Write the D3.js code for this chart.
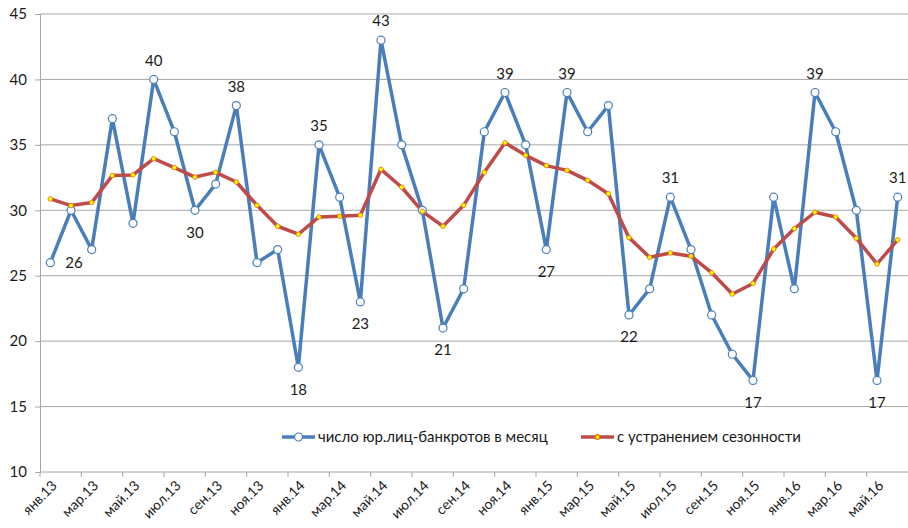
<!DOCTYPE html>
<html>
<head>
<meta charset="utf-8">
<script src="https://cdn.jsdelivr.net/npm/d3@7"></script>
<style>
  body { margin: 0; background: #fff; }
  svg { font-family: Lato, "Open Sans", sans-serif; }
</style>
</head>
<body>
<div id="chart"></div>
<script>
var months = [
  "янв.13","фев.13","мар.13","апр.13","май.13","июн.13","июл.13","авг.13","сен.13","окт.13","ноя.13","дек.13",
  "янв.14","фев.14","мар.14","апр.14","май.14","июн.14","июл.14","авг.14","сен.14","окт.14","ноя.14","дек.14",
  "янв.15","фев.15","мар.15","апр.15","май.15","июн.15","июл.15","авг.15","сен.15","окт.15","ноя.15","дек.15",
  "янв.16","фев.16","мар.16","апр.16","май.16","июн.16"
];
var bankrupts = [26,30,27,37,29,40,36,30,32,38,26,27,18,35,31,23,43,35,30,21,24,36,39,35,
  27,39,36,38,22,24,31,27,22,19,17,31,24,39,36,30,17,31];
var seasonal = [30.87,30.36,30.59,32.65,32.7,33.94,33.26,32.54,32.9,32.16,30.38,28.78,28.17,29.49,29.54,29.62,
  33.13,31.76,29.92,28.78,30.38,32.9,35.16,34.2,33.41,33.05,32.29,31.27,27.91,26.41,26.74,26.49,
  25.23,23.6,24.41,27.04,28.6,29.85,29.49,27.86,25.9,27.74];
var yTicks = [10,15,20,25,30,35,40,45];
// labelled points: index -> "above" / "below" / "right"
var labelPos = {0:"right",5:"above",7:"below",9:"above",12:"below",13:"above",15:"below",16:"above",
  19:"below",22:"above",24:"below",25:"above",28:"below",30:"above",34:"below",37:"above",40:"below",41:"above"};
var seriesNames = ["число юр.лиц-банкротов в месяц", "с устранением сезонности"];

var width = 908, height = 528,
    margin = {left: 40, right: 0, top: 14, bottom: 56};

var svg = d3.select("#chart").append("svg")
    .attr("width", width)
    .attr("height", height);

var x = d3.scaleBand()
    .domain(months)
    .range([margin.left, width - margin.right]);

var y = d3.scaleLinear()
    .domain([10, 45])
    .range([height - margin.bottom, margin.top]);

var cx = function(i){ return x(months[i]) + x.bandwidth() / 2; };

// grid
svg.append("g")
  .selectAll("line")
  .data(yTicks.slice(1))
  .enter().append("line")
    .attr("x1", margin.left)
    .attr("x2", width)
    .attr("y1", function(d){ return y(d); })
    .attr("y2", function(d){ return y(d); })
    .style("stroke", "#a6a6a6")
    .style("stroke-width", 1);

// y axis
var yAxis = svg.append("g")
    .attr("transform", "translate(" + margin.left + ",0)")
    .call(d3.axisLeft(y).tickValues(yTicks).tickSize(5).tickPadding(8));
yAxis.select(".domain").style("stroke", "#a6a6a6");
yAxis.selectAll(".tick line").style("stroke", "#a6a6a6");
yAxis.selectAll("text")
    .style("font-size", "15px")
    .style("fill", "#1a1a1a")
    .style("font-family", "Lato, sans-serif");

// x axis
var xAxisG = svg.append("g")
    .attr("transform", "translate(0," + y(10) + ")");
xAxisG.append("line")
    .attr("x1", margin.left).attr("x2", width)
    .style("stroke", "#a6a6a6");
xAxisG.selectAll(".xt")
    .data(months.filter(function(d, i){ return i % 2 == 0; }))
    .enter().append("line")
    .attr("class", "xt")
    .attr("x1", function(d){ return x(d); })
    .attr("x2", function(d){ return x(d); })
    .attr("y1", 0).attr("y2", 5)
    .style("stroke", "#a6a6a6");
xAxisG.selectAll(".xl")
    .data(months.filter(function(d, i){ return i % 2 == 0; }))
    .enter().append("text")
    .attr("class", "xl")
    .attr("transform", function(d){
        return "translate(" + (x(d) + x.bandwidth() / 2 + 4) + ",11) rotate(-45)";
    })
    .attr("text-anchor", "end")
    .attr("dy", "0.35em")
    .style("font-size", "14px")
    .style("fill", "#1a1a1a")
    .text(function(d){ return d; });

// lines
var line = function(vals){
  return d3.line()
    .x(function(d, i){ return cx(i); })
    .y(function(d){ return y(d); })(vals);
};

svg.append("path")
    .attr("d", line(bankrupts))
    .style("fill", "none")
    .style("stroke", "#4a7ebb")
    .style("stroke-width", 3.5)
    .style("stroke-linejoin", "round");

svg.append("path")
    .attr("d", line(seasonal))
    .style("fill", "none")
    .style("stroke", "#be4b48")
    .style("stroke-width", 3.5)
    .style("stroke-linejoin", "round");

svg.append("g").selectAll("circle")
    .data(bankrupts)
    .enter().append("circle")
    .attr("cx", function(d, i){ return cx(i); })
    .attr("cy", function(d){ return y(d); })
    .attr("r", 4)
    .style("fill", "#fff")
    .style("stroke", "#4a7ebb")
    .style("stroke-width", 1.2);

svg.append("g").selectAll("circle")
    .data(seasonal)
    .enter().append("circle")
    .attr("cx", function(d, i){ return cx(i); })
    .attr("cy", function(d){ return y(d); })
    .attr("r", 2.3)
    .style("fill", "#ffff00")
    .style("stroke", "#e46c0a")
    .style("stroke-width", 0.8);

// data labels
svg.append("g").selectAll("text")
    .data(Object.keys(labelPos).map(Number))
    .enter().append("text")
    .attr("x", function(i){ return labelPos[i] == "right" ? cx(i) + 15 : cx(i); })
    .attr("y", function(i){
        var p = y(bankrupts[i]);
        if (labelPos[i] == "above") return p - 19;
        if (labelPos[i] == "below") return p + 22;
        return p;
    })
    .attr("dy", "0.35em")
    .attr("text-anchor", function(i){ return labelPos[i] == "right" ? "start" : "middle"; })
    .style("font-size", "15px")
    .style("fill", "#1a1a1a")
    .text(function(i){ return bankrupts[i]; });

// legend
var legend = svg.append("g").attr("transform", "translate(0,437)");
var legItems = [
  {name: seriesNames[0], x: 282, color: "#4a7ebb", r: 4, fill: "#fff", mstroke: "#4a7ebb"},
  {name: seriesNames[1], x: 581, color: "#be4b48", r: 2.3, fill: "#ffff00", mstroke: "#e46c0a"}
];
var li = legend.selectAll("g").data(legItems).enter().append("g")
    .attr("transform", function(d){ return "translate(" + d.x + ",0)"; });
li.append("line")
    .attr("x1", 0).attr("x2", 33)
    .style("stroke", function(d){ return d.color; })
    .style("stroke-width", 3.5);
li.append("circle")
    .attr("cx", 16.5).attr("r", function(d){ return d.r; })
    .style("fill", function(d){ return d.fill; })
    .style("stroke", function(d){ return d.mstroke; })
    .style("stroke-width", 1.2);
li.append("text")
    .attr("x", 36)
    .attr("dy", "0.35em")
    .style("font-size", "15px")
    .style("fill", "#1a1a1a")
    .text(function(d){ return d.name; });
</script>
</body>
</html>
